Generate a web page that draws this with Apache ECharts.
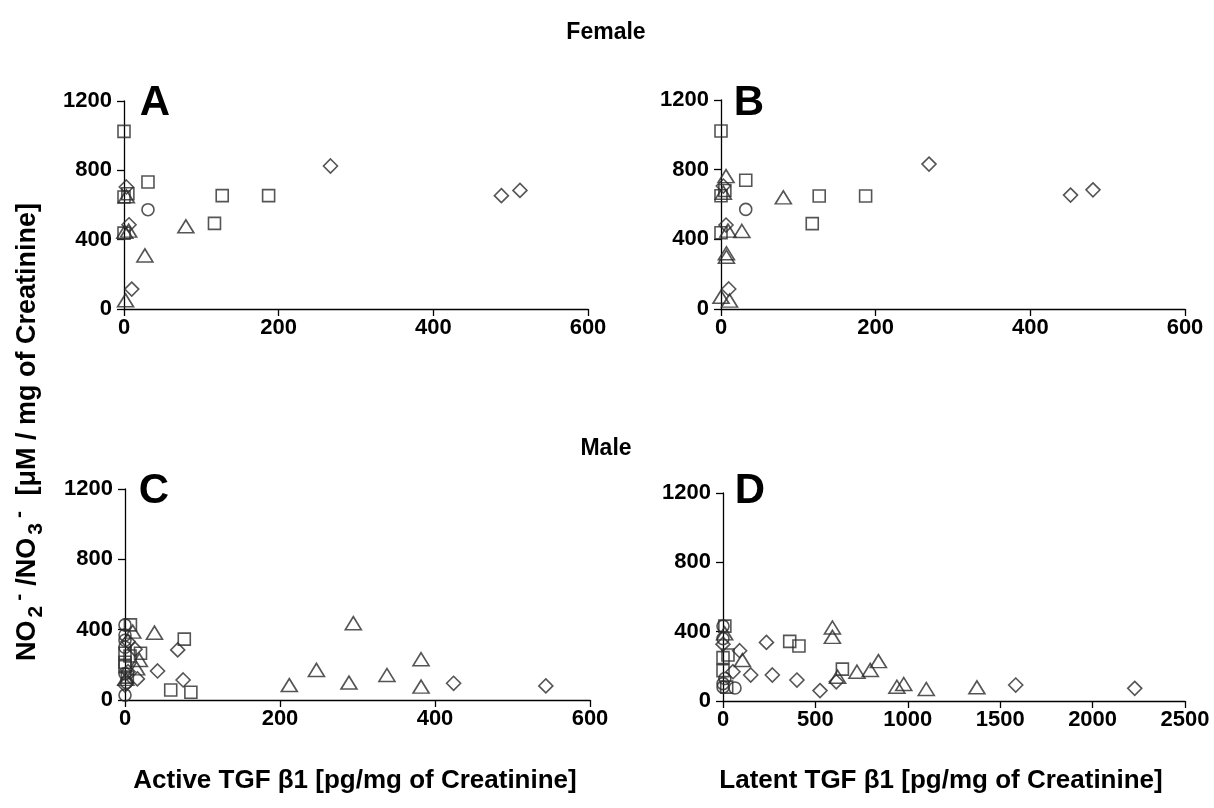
<!DOCTYPE html>
<html>
<head>
<meta charset="utf-8">
<title>NO2/NO3 vs TGF beta1</title>
<script src="https://cdn.jsdelivr.net/npm/echarts@6/dist/echarts.min.js"></script>
<style>
  html, body { margin: 0; padding: 0; background: #fff; }
  #chart { width: 1214px; height: 808px; }
</style>
</head>
<body>
<div id="chart"></div>
<script>
  // panel A: female, active TGF b1
  const aSquare = [[0,1025],[31,733],[0,646],[5,665],[117,494],[127,654],[187,654],[0,438]];
  const aDiamond = [[3,704],[6.5,486],[10,115],[267,825],[488,654],[512,684]];
  const aTriangle = [[3,650],[1,445],[6,452],[27,309],[2,50],[80,477]];
  const aCircle = [[31,573]];

  // panel B: female, latent TGF b1
  const bSquare = [[0,1022],[32,739],[0,650],[5,680],[127,649],[187,649],[118,490],[0,438]];
  const bDiamond = [[3,706],[6.5,482],[10,115],[269,832],[452,654],[481,684]];
  const bTriangle = [[6.5,763],[3,668],[9,450],[27,448],[7,320],[7,300],[0,70],[11,48],[80.6,641]];
  const bCircle = [[32,572]];

  // panel C: male, active TGF b1
  const cSquare = [[7,427],[76.5,346],[20,266],[6.5,250],[0,266],[0,190],[0,215],[3,130],[59,57],[85,44]];
  const cDiamond = [[4,332],[68,285],[13,289],[4,161],[42,165],[16,120],[0,85],[75,114],[424,95],[543,80]];
  const cTriangle = [[10,389],[38,383],[18.5,228],[15,180],[1,120],[212,85],[294.6,437],[382,232],[247,171],[338,142],[289,99],[382,76]];
  const cCircle = [[0,427],[0,370],[0,340],[0,300],[0,150],[0,28],[2,100]];

  // panel D: male, latent TGF b1
  const dSquare = [[10,432],[361,344],[411,317],[27,265],[0,250],[0,175],[646,184],[20,80]];
  const dDiamond = [[0,328],[90,290],[235,338],[54,169],[150,150],[267,150],[400,121],[613,111],[1584,92],[2228,73],[525,60]];
  const dTriangle = [[9,390],[592,424],[592,370],[105,236],[725,169],[797,179],[841,230],[941,82],[978,98],[1100,69],[1374,79],[620,140]];
  const dCircle = [[0,432],[0,360],[10,130],[65,75],[0,80],[0,100]];

  const yTicks = [0, 400, 800, 1200];
  const activeMax = 600, latentMaleMax = 2500;

  const panels = [
    { sets: [aSquare, aDiamond, aTriangle, aCircle], grid: { left: 124, top: 101, width: 464, height: 208 }, xmax: activeMax, xstep: 200 },
    { sets: [bSquare, bDiamond, bTriangle, bCircle], grid: { left: 721, top: 100, width: 464, height: 209 }, xmax: activeMax, xstep: 200 },
    { sets: [cSquare, cDiamond, cTriangle, cCircle], grid: { left: 125, top: 489, width: 465, height: 211 }, xmax: activeMax, xstep: 200 },
    { sets: [dSquare, dDiamond, dTriangle, dCircle], grid: { left: 723, top: 493, width: 462, height: 208 }, xmax: latentMaleMax, xstep: 500 }
  ];

  const symbols = [
    { symbol: 'rect', size: 12 },
    { symbol: 'diamond', size: 14 },
    { symbol: 'triangle', size: [16, 13] },
    { symbol: 'circle', size: 12 }
  ];

  const FONT = 'Liberation Sans, Arial';
  const axisFont = { fontFamily: FONT, fontWeight: 'bold', fontSize: 22, color: '#000', formatter: v => String(v) };
  const lineStyle = { color: '#000', width: 1.3 };

  const grids = [], xAxes = [], yAxes = [], series = [];
  panels.forEach((p, i) => {
    grids.push(p.grid);
    xAxes.push({
      type: 'value', gridIndex: i, min: 0, max: p.xmax, interval: p.xstep,
      axisLine: { show: true, onZero: false, lineStyle },
      axisTick: { show: true, length: 7, lineStyle },
      axisLabel: Object.assign({ margin: 8 }, axisFont),
      splitLine: { show: false }
    });
    yAxes.push({
      type: 'value', gridIndex: i, min: yTicks[0], max: yTicks[yTicks.length - 1], interval: 400,
      axisLine: { show: true, onZero: false, lineStyle },
      axisTick: { show: true, length: 7, lineStyle },
      axisLabel: Object.assign({ margin: 12 }, axisFont),
      splitLine: { show: false }
    });
    p.sets.forEach((d, k) => {
      series.push({
        type: 'scatter', xAxisIndex: i, yAxisIndex: i, data: d,
        symbol: symbols[k].symbol, symbolSize: symbols[k].size,
        itemStyle: { color: 'rgba(255,255,255,0)', borderColor: '#2a2a2a', borderWidth: 1.6 },
        emphasis: { disabled: true },
        silent: true
      });
    });
  });

  const txt = (x, y, text, size) => ({
    type: 'text', x, y, silent: true,
    style: {
      text, fill: '#000', fontFamily: FONT, fontWeight: 'bold', fontSize: size,
      align: 'center', verticalAlign: 'middle'
    }
  });

  const chart = echarts.init(document.getElementById('chart'));
  chart.setOption({
    backgroundColor: '#fff',
    animation: false,
    grid: grids,
    xAxis: xAxes,
    yAxis: yAxes,
    series,
    graphic: [
      txt(606, 33, 'Female', 23),
      txt(606, 449, 'Male', 23),
      txt(155, 103, 'A', 42),
      txt(749, 103, 'B', 42),
      txt(154, 491, 'C', 42),
      txt(750, 491, 'D', 42),
      txt(355, 781, 'Active TGF β1 [pg/mg of Creatinine]', 26),
      txt(941, 781, 'Latent TGF β1 [pg/mg of Creatinine]', 26),
      {
        type: 'text', x: 28, y: 432, rotation: Math.PI / 2, silent: true,
        style: {
          text: 'NO{sub|2}{sup|-}/NO{sub|3}{sup|-} [μM / mg of Creatinine]',
          fill: '#000', fontFamily: FONT, fontWeight: 'bold', fontSize: 27,
          align: 'center', verticalAlign: 'middle', lineHeight: 38,
          rich: {
            sub: { fontSize: 21, fontWeight: 'bold', fontFamily: FONT, verticalAlign: 'bottom', lineHeight: 38, padding: [0, 2, 0, 3] },
            sup: { fontSize: 21, fontWeight: 'bold', fontFamily: FONT, verticalAlign: 'top', lineHeight: 38, padding: [0, 8, 0, 3] }
          }
        }
      }
    ]
  });
</script>
</body>
</html>
